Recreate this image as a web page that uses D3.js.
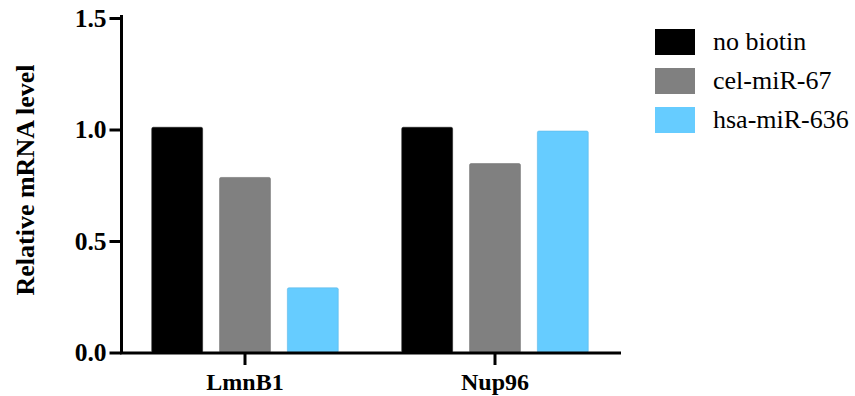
<!DOCTYPE html>
<html>
<head>
<meta charset="utf-8">
<script src="https://cdn.jsdelivr.net/npm/d3@7"></script>
<style>
  html, body { margin: 0; padding: 0; background: #fff; }
  svg { display: block; }
  svg text { font-family: "Liberation Serif", "Times New Roman", Times, "DejaVu Serif", serif; }
</style>
</head>
<body>
<svg id="chart" width="855" height="396"></svg>
<script>
// Relative mRNA levels per gene and treatment
const categories = ["LmnB1", "Nup96"];
const seriesNames = ["no biotin", "cel-miR-67", "hsa-miR-636"];
const noBiotin = [1.01, 1.01];
const celMiR67 = [0.785, 0.847];
const hsaMiR636 = [0.29, 0.993];
const yTicks = [0.0, 0.5, 1.0, 1.5];
const colors = ["#000000", "#808080", "#66CCFF"];

const seriesValues = [noBiotin, celMiR67, hsaMiR636];

const svg = d3.select("#chart");

const y = d3.scaleLinear().domain([0, 1.5]).range([352.5, 18]);
const x0 = d3.scaleBand().domain(categories).range([120, 620])
  .paddingInner(0.254).paddingOuter(0.127);
const x1 = d3.scaleBand().domain(seriesNames).range([0, x0.bandwidth()])
  .paddingInner(0.25).paddingOuter(0);

// Bars
const groups = svg.append("g").selectAll("g")
  .data(categories)
  .join("g")
  .attr("transform", d => `translate(${x0(d)},0)`);

groups.selectAll("rect")
  .data((c, ci) => seriesNames.map((s, si) => ({ s, si, v: seriesValues[si][ci] })))
  .join("rect")
  .attr("x", d => x1(d.s))
  .attr("y", d => y(d.v))
  .attr("width", x1.bandwidth())
  .attr("height", d => y(0) - y(d.v))
  .attr("rx", 1.5)
  .attr("fill", d => colors[d.si])
  .attr("stroke", d => d.si === 0 ? "#222" : d3.color(colors[d.si]).darker(0.3))
  .attr("stroke-width", 0.6);

// Y axis
const yAxis = svg.append("g")
  .attr("transform", "translate(121.5,0)")
  .call(d3.axisLeft(y).tickValues(yTicks).tickFormat(d3.format(".1f"))
    .tickSize(12).tickSizeOuter(0).tickPadding(3));
yAxis.attr("font-family", null);
yAxis.select(".domain").attr("stroke", "#000").attr("stroke-width", 3)
  .attr("d", `M0,15V${y(0) + 1.5}`);
yAxis.selectAll(".tick line").attr("stroke", "#000").attr("stroke-width", 3);
yAxis.selectAll(".tick text")
  .style("font-weight", "bold")
  .style("font-size", "25.5px").attr("fill", "#000");

// X axis
const xAxis = svg.append("g")
  .attr("transform", `translate(0,${y(0) + 0.5})`)
  .call(d3.axisBottom(x0).tickSize(12).tickSizeOuter(0).tickPadding(8));
xAxis.attr("font-family", null);
xAxis.select(".domain").attr("stroke", "#000").attr("stroke-width", 3)
  .attr("d", "M120,0H621");
xAxis.selectAll(".tick line").attr("stroke", "#000").attr("stroke-width", 3);
xAxis.selectAll(".tick text")
  .style("font-weight", "bold")
  .style("font-size", "24px").attr("fill", "#000");

// Y axis title
svg.append("text")
  .attr("transform", "translate(34,180) rotate(-90)")
  .attr("text-anchor", "middle")
  .style("font-weight", "bold")
  .style("font-size", "26px")
  .text("Relative mRNA level");

// Legend
const legend = svg.append("g").attr("transform", "translate(655,29)");
const items = legend.selectAll("g")
  .data(seriesNames)
  .join("g")
  .attr("transform", (d, i) => `translate(0,${i * 39})`);
items.append("rect")
  .attr("width", 40).attr("height", 26)
  .attr("fill", (d, i) => colors[i]);
items.append("text")
  .attr("x", 58).attr("y", 21)
  .style("font-size", "26px")
  .text(d => d);
</script>
</body>
</html>
